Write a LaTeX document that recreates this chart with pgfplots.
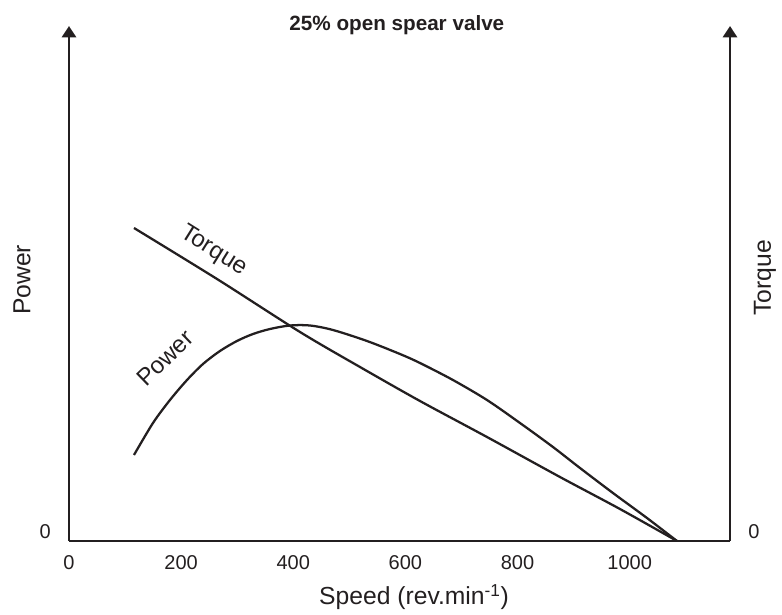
\documentclass[border=0pt]{standalone}
\usepackage{pgfplots}
\pgfplotsset{compat=1.18}
\usepackage{fontspec}
\setmainfont{Liberation Sans}
\usetikzlibrary{arrows.meta,calc}
\definecolor{ink}{HTML}{231F20}

% 1px of the reference = 0.75pt
\begin{document}
\begin{tikzpicture}
\pgfplotsset{
  speedaxes/.style={
    width=495.75pt, height=386.25pt, scale only axis,
    xmin=0, xmax=1179, ymin=0, ymax=515,
    scaled ticks=false,
    /pgf/number format/assume math mode=true,
    /pgf/number format/1000 sep={},
    major tick length=0pt,
    ytick={0},
    yticklabel style={font=\fontsize{15}{18}\selectfont, text=ink, inner sep=0pt},
  },
  axisink/.style={
    axis line style={draw=ink, line width=2.1pt},
    y axis line style={-{Triangle[length=8.5pt,width=10.5pt]}},
  }
}
\begin{axis}[
  speedaxes,
  axis x line=bottom, axis y line=left,
  axisink,
  x axis line style={-},
  xtick={0,200,...,1000},
  xticklabel style={font=\fontsize{15}{18}\selectfont, text=ink, anchor=north, inner sep=0pt, yshift=-10.5pt},
  yticklabel style={anchor=south east, xshift=-13.5pt, yshift=1.5pt},
  xlabel={Speed (rev.min\textsuperscript{-1})},
  every axis x label/.style={at={(axis description cs:0.522,0)}, anchor=center, yshift=-42pt,
    font=\fontsize{18.5}{22}\selectfont, text=ink},
  title={25\% open spear valve},
  every axis title/.style={at={(axis description cs:0.496,1)}, anchor=base, yshift=-3.75pt,
    font=\fontsize{15.5}{18}\selectfont\bfseries, text=ink},
]
% Power
\addplot[draw=ink, line width=1.7pt, smooth, tension=0.5] coordinates {
  (115.9,86) (149.8,118) (180.1,141) (210.5,161) (239.0,177) (269.3,190)
  (299.6,200) (328.2,207) (358.5,212) (394.1,215.5) (429.8,215.5) (470.8,211)
  (531.5,200) (590.3,187) (626.0,178) (684.8,161) (745.5,141) (804.4,118)
  (863.2,94) (911.4,73) (970.2,48) (1030.9,23) (1084.4,0)
};
% Torque
\addplot[draw=ink, line width=1.7pt, smooth, tension=0.5] coordinates {
  (115.9,313) (264.0,262) (412.0,209) (519.0,174) (626.0,140)
  (745.5,104) (875.7,64) (982.7,32) (1084.4,0)
};
\node[rotate=-32, text=ink, font=\fontsize{18}{20}\selectfont] at (axis cs:258,290) {Torque};
\node[rotate=44, text=ink, font=\fontsize{18}{20}\selectfont] at (axis cs:171,183) {Power};
\coordinate (sw) at (axis cs:0,0);
\coordinate (ne) at (axis cs:1179,515);
\end{axis}
\begin{axis}[
  speedaxes,
  axis x line=none, axis y line=right,
  axisink,
  yticklabel style={anchor=south west, xshift=13.5pt, yshift=1.5pt},
]
\end{axis}
\node[xshift=-35.25pt, rotate=90, text=ink, font=\fontsize{18.5}{22}\selectfont]
  at ($(sw)!0.507!(sw|-ne)$) {Power};
\node[xshift=26.25pt, rotate=90, text=ink, font=\fontsize{18.5}{22}\selectfont]
  at ($(ne|-sw)!0.511!(ne)$) {Torque};
\path ([shift={(-51.75pt,-54pt)}]sw) rectangle ([shift={(39pt,19.5pt)}]ne);
\end{tikzpicture}
\end{document}
